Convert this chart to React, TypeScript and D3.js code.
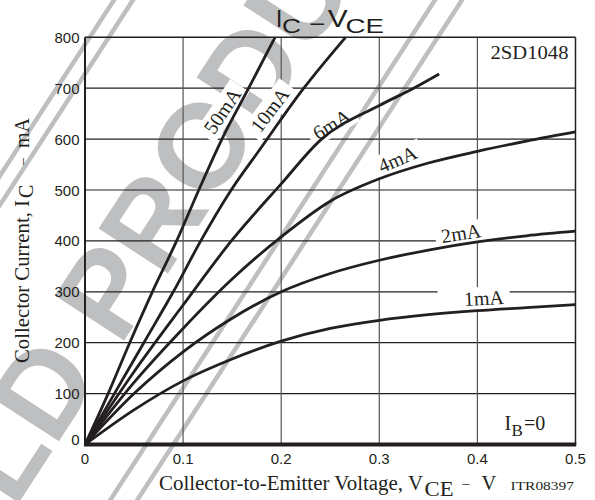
import React from 'react';
import * as d3 from 'd3';

// ---------- data ----------
const xTickValues = [0, 0.1, 0.2, 0.3, 0.4, 0.5];
const xTickLabels = ['0', '0.1', '0.2', '0.3', '0.4', '0.5'];
const yTickValues = [0, 100, 200, 300, 400, 500, 600, 700, 800];
const yTickLabels = ['0', '100', '200', '300', '400', '500', '600', '700', '800'];

const vceStd = [0, 0.05, 0.1, 0.15, 0.2, 0.25, 0.3, 0.35, 0.4, 0.45, 0.5];
const ic1mA = [0, 68, 125, 168, 203, 228, 244, 255, 263, 269, 275];
const ic2mA = [0, 100, 182, 248, 300, 336, 362, 382, 398, 410, 419];
const ic4mA = [0, 122, 228, 325, 408, 478, 522, 553, 576, 596, 614];
const vce6mA = [0, 0.05, 0.1, 0.15, 0.2, 0.24, 0.3, 0.335, 0.361];
const ic6mA = [0, 143, 274, 402, 512, 598, 666, 700, 728];
const vce10mA = [0, 0.03, 0.06, 0.09, 0.118, 0.149, 0.178, 0.223, 0.2656];
const ic10mA = [0, 100, 200, 300, 400, 500, 579, 700, 800];
const vce50mA = [0, 0.0236, 0.0456, 0.0687, 0.0934, 0.116, 0.1396, 0.1668, 0.1937];
const ic50mA = [0, 100, 200, 300, 400, 500, 600, 700, 800];

const seriesNames = ['1mA', '2mA', '4mA', '6mA', '10mA', '50mA'];
const seriesV = [vceStd, vceStd, vceStd, vce6mA, vce10mA, vce50mA];
const seriesI = [ic1mA, ic2mA, ic4mA, ic6mA, ic10mA, ic50mA];

// ---------- layout (annotation placement, in data coordinates) ----------
const labelLayout = [
  { v: 0.4067, i: 287, angle: -3, padL: 26, padR: 6 },
  { v: 0.3833, i: 414.5, angle: -9, padL: 6, padR: 6 },
  { v: 0.3186, i: 560, angle: -23, padL: 6, padR: 6 },
  { v: 0.2515, i: 628.7, angle: -31, padL: 6, padR: 6 },
  { v: 0.1886, i: 657, angle: -53, padL: 6, padR: 6 },
  { v: 0.1402, i: 655, angle: -56, padL: 6, padR: 6 },
];

const INK = '#231f20';
const GRAY = '#bebfc1';
const SERIF = "'Liberation Serif', 'Times New Roman', serif";
const SANS = "'Liberation Sans', Arial, Helvetica, sans-serif";

const charEm: Record<string, number> = { '0': 0.5, '1': 0.5, '2': 0.5, '4': 0.5, '5': 0.5, '6': 0.5, m: 0.778, A: 0.722 };
const textEm = (s: string) => s.split('').reduce((a, c) => a + (charEm[c] ?? 0.5), 0);

export default function App() {
  const x = d3.scaleLinear().domain([0, 0.5]).range([85, 575.5]);
  const y = d3.scaleLinear().domain([0, 800]).range([444.5, 37.3]);
  const line = d3
    .line<[number, number]>()
    .x((d) => x(d[0]))
    .y((d) => y(d[1]))
    .curve(d3.curveMonotoneX);

  const [x0, x1] = x.range();
  const [y0, y1] = y.range();

  // watermark geometry
  const wmAngle = 57;
  const k = 1 / Math.tan((wmAngle * Math.PI) / 180);
  const wmLines = [114, 133, 435, 462];

  const fs = 20;

  return (
    <svg
      width={595}
      height={500}
      viewBox="0 0 595 500"
      style={{ position: 'absolute', left: 0, top: 0, display: 'block', background: '#fff' }}
    >
      <rect x={0} y={0} width={595} height={500} fill="#fff" />

      {/* watermark */}
      <g>
        {wmLines.map((c, idx) => (
          <line
            key={idx}
            x1={c + k * 20}
            y1={-20}
            x2={c - k * 520}
            y2={520}
            stroke={GRAY}
            strokeWidth={4.5}
          />
        ))}
        <g transform={`translate(200,145) rotate(${-wmAngle})`}>
          <text x={-500} y={43} fontFamily={SANS} fontWeight="bold" fontSize={120} fill={GRAY}>
            OLD PRODUCT
          </text>
        </g>
      </g>

      {/* grid */}
      <g>
        {yTickValues
          .filter((v) => v > 0 && v < 800)
          .map((v) => (
            <line key={'h' + v} x1={x0} x2={x1} y1={y(v)} y2={y(v)} stroke={INK} strokeWidth={1.2} />
          ))}
        {xTickValues
          .filter((v) => v > 0 && v < 0.5)
          .map((v) => (
            <line key={'v' + v} x1={x(v)} x2={x(v)} y1={y0} y2={y1} stroke="#555" strokeWidth={1.2} />
          ))}
      </g>

      {/* label boxes */}
      {seriesNames.map((name, idx) => {
        const L = labelLayout[idx];
        const w = textEm(name) * fs;
        return (
          <g key={'lb' + name} transform={`translate(${x(L.v)},${y(L.i)}) rotate(${L.angle})`}>
            <rect
              x={-w / 2 - L.padL}
              y={-0.33 * fs - 5}
              width={w + L.padL + L.padR}
              height={0.66 * fs + 10}
              fill="#fff"
            />
            <text x={0} y={0.33 * fs} textAnchor="middle" fontFamily={SERIF} fontSize={fs} fill={INK}>
              {name}
            </text>
          </g>
        );
      })}

      {/* curves */}
      <g fill="none" stroke={INK} strokeWidth={2.8} strokeLinejoin="round">
        {seriesNames.map((name, idx) => {
          const pts = seriesV[idx].map((v, j) => [v, seriesI[idx][j]] as [number, number]);
          return <path key={name} d={line(pts) || ''} />;
        })}
      </g>

      {/* frame */}
      <g fill="none" stroke={INK}>
        <line x1={x0} x2={x1} y1={y1} y2={y1} strokeWidth={1.5} />
        <line x1={x1} x2={x1} y1={y1} y2={y0} strokeWidth={1.5} />
        <line x1={x0} x2={x0} y1={y1} y2={y0} strokeWidth={2} />
        <line x1={x0 - 1} x2={x1 + 0.75} y1={y0} y2={y0} strokeWidth={4} />
      </g>

      {/* tick labels */}
      <g fontFamily={SANS} fontSize={15} fill={INK}>
        {yTickValues.map((v, idx) => (
          <text key={'yt' + v} x={79.5} y={v === 0 ? y(v) + 0.5 : y(v) + 5.5} textAnchor="end">
            {yTickLabels[idx]}
          </text>
        ))}
        {xTickValues.map((v, idx) => (
          <text key={'xt' + v} x={x(v)} y={463.5} textAnchor="middle">
            {xTickLabels[idx]}
          </text>
        ))}
      </g>

      {/* x axis title */}
      <g fontFamily={SERIF} fill={INK}>
        <text x={159} y={490} fontSize={20.5} textLength={264} lengthAdjust="spacingAndGlyphs">
          Collector-to-Emitter Voltage, V
        </text>
        <text x={424.5} y={496} fontSize={20} textLength={29} lengthAdjust="spacingAndGlyphs">
          CE
        </text>
        <text x={462.5} y={487.5} fontSize={14}>
          –
        </text>
        <text x={481.5} y={490} fontSize={20.5}>
          V
        </text>
        <text x={510.5} y={490} fontSize={13} textLength={63.5} lengthAdjust="spacingAndGlyphs">
          ITR08397
        </text>
      </g>

      {/* y axis title */}
      <g transform="translate(28.5,363) rotate(-90)" fontFamily={SERIF} fill={INK}>
        <text x={0} y={0} fontSize={20.6} textLength={163} lengthAdjust="spacingAndGlyphs">
          Collector Current, I
        </text>
        <text x={165} y={4.5} fontSize={20}>
          C
        </text>
        <text x={198} y={-1.5} fontSize={14}>
          –
        </text>
        <text x={215} y={0} fontSize={20}>
          mA
        </text>
      </g>

      {/* chart title */}
      <g fontFamily={SANS} fill={INK}>
        <text x={275.8} y={26.7} fontSize={24}>
          I
        </text>
        <text x={282} y={33.3} fontSize={21} textLength={19} lengthAdjust="spacingAndGlyphs">
          C
        </text>
        <text x={310.5} y={29.5} fontSize={22} textLength={13.5} lengthAdjust="spacingAndGlyphs">
          –
        </text>
        <text x={327.8} y={26.7} fontSize={24} textLength={20} lengthAdjust="spacingAndGlyphs">
          V
        </text>
        <text x={345.5} y={33.3} fontSize={21} textLength={38.5} lengthAdjust="spacingAndGlyphs">
          CE
        </text>
      </g>

      {/* part number */}
      <text
        x={568.5}
        y={59.3}
        textAnchor="end"
        fontFamily={SERIF}
        fontSize={19.5}
        textLength={78}
        lengthAdjust="spacingAndGlyphs"
        fill={INK}
      >
        2SD1048
      </text>

      {/* IB=0 */}
      <g fontFamily={SERIF} fill={INK}>
        <text x={504.5} y={430} fontSize={20}>
          I
        </text>
        <text x={511.5} y={435.5} fontSize={17}>
          B
        </text>
        <text x={524} y={430} fontSize={20}>
          =0
        </text>
      </g>
    </svg>
  );
}
